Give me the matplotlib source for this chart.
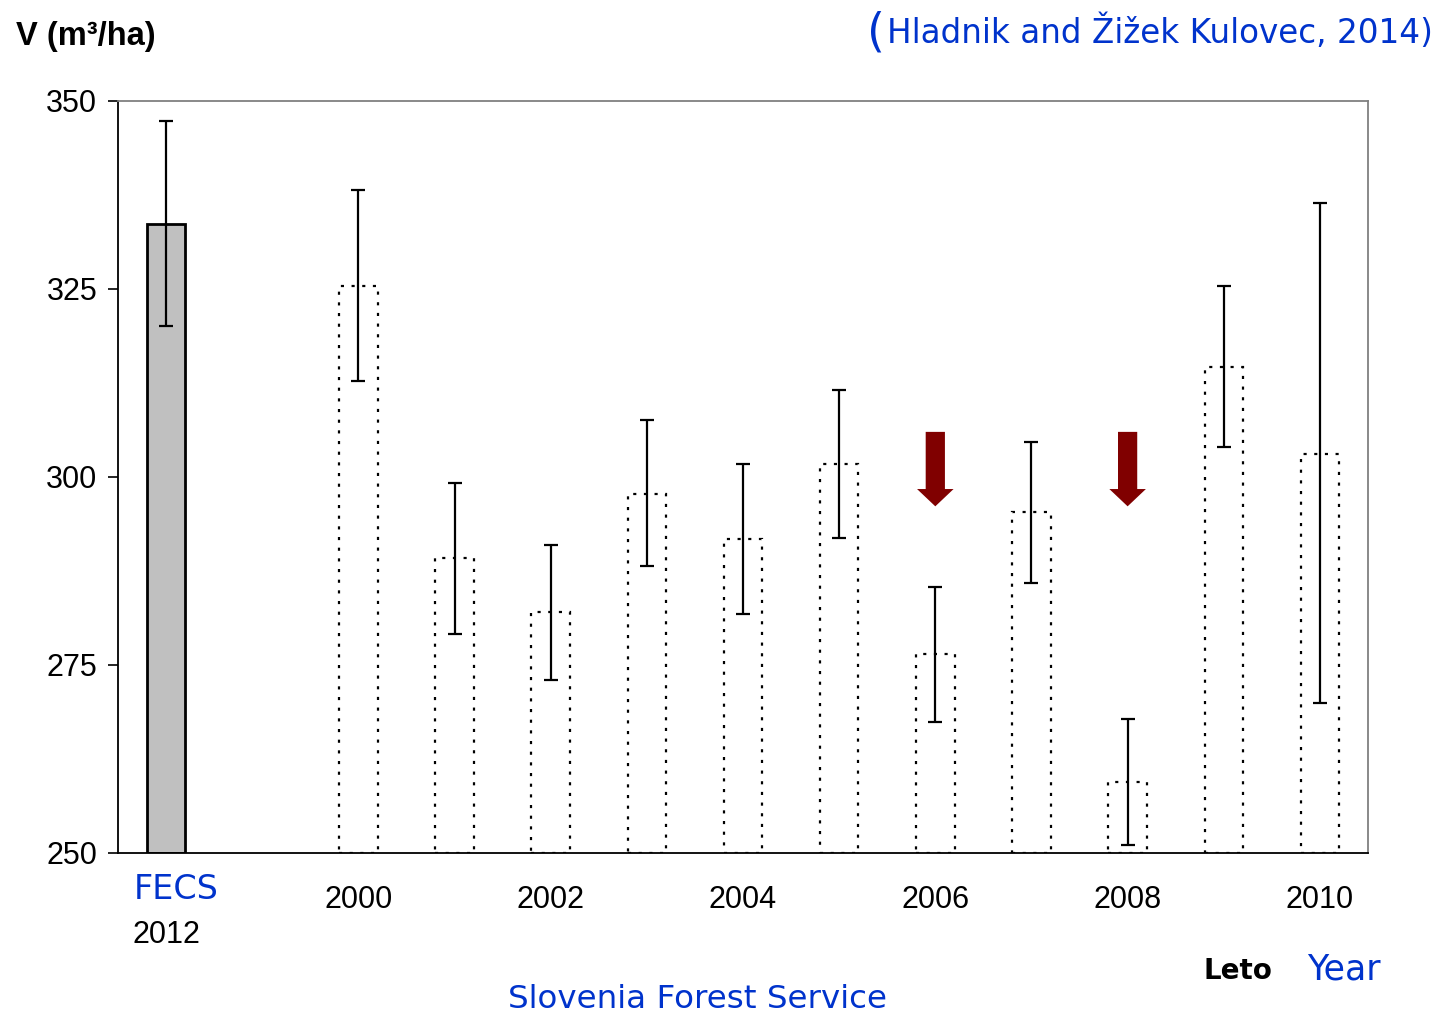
import matplotlib
matplotlib.use("Agg")
import matplotlib.pyplot as plt
import numpy as np

# Growing stock by inventory year (m3/ha) with error bars
categories = ["FECS 2012", "", "2000", "2001", "2002", "2003", "2004",
              "2005", "2006", "2007", "2008", "2009", "2010"]
volume = [333.6, np.nan, 325.4, 289.2, 282.0, 297.7, 291.8,
          301.7, 276.5, 295.3, 259.4, 314.6, 303.1]
err_low = [13.5, np.nan, 12.6, 10.1, 9.0, 9.5, 10.0,
           9.8, 9.1, 9.4, 8.3, 10.6, 33.1]
err_high = [13.7, np.nan, 12.8, 10.0, 9.0, 9.9, 9.9,
            9.9, 8.9, 9.4, 8.4, 10.8, 33.3]
tick_years = ["2000", "2002", "2004", "2006", "2008", "2010"]
tick_pos = [2, 4, 6, 8, 10, 12]
arrow_years = ["2006", "2008"]
yticks = [250, 275, 300, 325, 350]

BLUE = "#0033cc"
SANS = "Liberation Sans"
HUM = "DejaVu Sans"

fig = plt.figure(figsize=(14.38, 10.15), dpi=100)
ax = fig.add_axes([118 / 1438, 1 - 853 / 1015, 1250 / 1438, 752 / 1015])

x = np.arange(len(categories))
base = 250
heights = np.array(volume) - base

# FECS bar: solid grey
ax.bar(x[0], heights[0], bottom=base, width=0.4, color="#c0c0c0",
       edgecolor="black", linewidth=2.0, zorder=2)
# Forest service bars: white with dotted outline
for i in range(2, len(categories)):
    ax.bar(x[i], heights[i], bottom=base, width=0.4, facecolor="white",
           edgecolor="black", linewidth=1.6, linestyle=(0, (1.4, 3.4)),
           zorder=2)

ax.errorbar(x, volume, yerr=[err_low, err_high], fmt="none", ecolor="black",
            elinewidth=1.6, capsize=5, capthick=1.6, zorder=3)

# Arrows marking the years with a drop
for yr in arrow_years:
    xi = categories.index(yr)
    ax.arrow(xi, 306.0, 0, -9.9, width=0.2, head_width=0.38, head_length=2.3,
             length_includes_head=True, color="#800000", linewidth=0, zorder=4)

ax.set_xlim(-0.5, len(categories) - 0.5)
ax.set_ylim(250, 350)
ax.set_yticks(yticks)
ax.set_yticklabels([str(v) for v in yticks], fontsize=22, family=SANS)
ax.set_xticks(tick_pos)
ax.set_xticklabels(tick_years, fontsize=22, family=SANS)
ax.tick_params(axis="x", length=0, pad=23)
ax.tick_params(axis="y", length=7, width=1.2, direction="out", pad=8)

for side in ["top", "right"]:
    ax.spines[side].set_color("#808080")
    ax.spines[side].set_linewidth(1.3)
for side in ["left", "bottom"]:
    ax.spines[side].set_color("black")
    ax.spines[side].set_linewidth(1.3)

# Labels
fig.text(16 / 1438, 1 - 36 / 1015, "V (m³/ha)", fontsize=23.5, fontweight="bold",
         family=SANS, ha="left", va="center")
ref = fig.text(1433 / 1438, 1 - 32 / 1015, "Hladnik and Žižek Kulovec, 2014)",
               fontsize=23.5, color=BLUE, family=HUM, ha="right", va="center")
fig.canvas.draw()
bb = ref.get_window_extent()
fig.text((bb.x0 - 2) / 1438, 1 - 33 / 1015, "(", fontsize=33, color=BLUE,
         family=HUM, ha="right", va="center")
ax.text(x[0] + 0.1, -0.048, "FECS", transform=ax.get_xaxis_transform(),
        fontsize=24, color=BLUE, family=HUM, ha="center", va="center")
ax.text(x[0], -0.109, "2012", transform=ax.get_xaxis_transform(),
        fontsize=22, family=SANS, ha="center", va="center")
fig.text(1238 / 1438, 1 - 971 / 1015, "Leto", fontsize=20, fontweight="bold",
         family=HUM, ha="center", va="center")
fig.text(1344 / 1438, 1 - 970 / 1015, "Year", fontsize=25, color=BLUE,
         family=HUM, ha="center", va="center")
fig.text(697 / 1438, 1 - 999 / 1015, "Slovenia Forest Service", fontsize=23.4,
         color=BLUE, family=HUM, ha="center", va="center")

fig.savefig("out.png", dpi=100)
